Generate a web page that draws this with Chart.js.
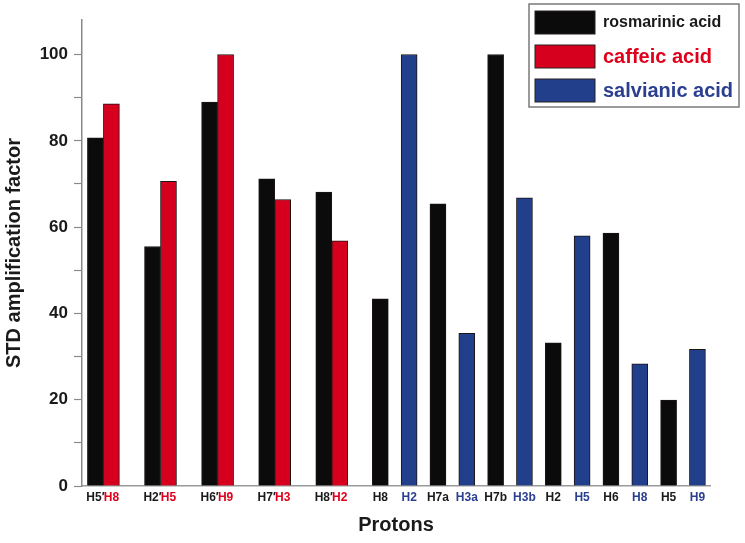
<!DOCTYPE html>
<html>
<head>
<meta charset="utf-8">
<script src="https://cdn.jsdelivr.net/npm/chart.js@4"></script>
<style>
  html, body { margin: 0; padding: 0; background: #fff; }
  #wrap { width: 745px; height: 543px; position: relative; }
</style>
</head>
<body>
<div id="wrap"><canvas id="stdChart"></canvas></div>
<script>
// Paired protons (rosmarinic acid vs caffeic acid)
const rosPairLabels = ['H5′', 'H2′', 'H6′', 'H7′', 'H8′'];
const rosPairValues = [80.7, 55.5, 89.0, 71.2, 68.1];
const caffeicLabels = ['H8', 'H5', 'H9', 'H3', 'H2'];
const caffeicValues = [88.6, 70.6, 100, 66.4, 56.8];

// Single protons (rosmarinic acid / salvianic acid alternating)
const singleLabels = ['H8', 'H2', 'H7a', 'H3a', 'H7b', 'H3b', 'H2', 'H5', 'H6', 'H8', 'H5', 'H9'];
const singleSeries = ['ros', 'sal', 'ros', 'sal', 'ros', 'sal', 'ros', 'sal', 'ros', 'sal', 'ros', 'sal'];
const singleValues = [43.4, 100, 65.4, 35.4, 100, 66.8, 33.2, 58.0, 58.6, 28.3, 19.9, 31.7];

const yTicks = [0, 20, 40, 60, 80, 100];

const COLORS = {
    ros: { bar: '#0b0b0b', text: '#1a1a1a' },
    caf: { bar: '#d6001e', text: '#e0001b' },
    sal: { bar: '#213f8a', text: '#2b3f90' }
};
const seriesNames = { ros: 'rosmarinic acid', caf: 'caffeic acid', sal: 'salvianic acid' };

// slot layout: each pair takes two slots, then one slot per single bar
const bars = [];
rosPairLabels.forEach((lab, g) => {
    const c = 0.75 + 2 * g;
    bars.push({ x: c - 0.28, y: rosPairValues[g], label: lab, s: 'ros' });
    bars.push({ x: c + 0.28, y: caffeicValues[g], label: caffeicLabels[g], s: 'caf' });
});
singleLabels.forEach((lab, i) => {
    bars.push({ x: 10.45 + 1.01 * i, y: singleValues[i], label: lab, s: singleSeries[i] });
});

function makeDataset(key) {
    return {
        label: seriesNames[key],
        data: bars.filter(b => b.s === key).map(b => ({ x: b.x, y: b.y })),
        backgroundColor: COLORS[key].bar,
        borderColor: '#1c1414',
        borderWidth: 1,
        barThickness: 16,
        grouped: false
    };
}

// legend box drawn in the upper right corner
const legendBox = {
    id: 'legendBox',
    afterDraw(chart) {
        const ctx = chart.ctx;
        ctx.save();
        ctx.fillStyle = '#fff';
        ctx.strokeStyle = '#7a7a7a';
        ctx.lineWidth = 1.5;
        ctx.fillRect(529, 4, 210, 103);
        ctx.strokeRect(529, 4, 210, 103);
        const sizes = [16, 20, 20];
        chart.data.datasets.forEach((ds, i) => {
            const top = 11 + i * 34;
            ctx.fillStyle = ds.backgroundColor;
            ctx.fillRect(535, top, 60, 23);
            ctx.strokeStyle = '#2a2020';
            ctx.lineWidth = 1;
            ctx.strokeRect(535, top, 60, 23);
            const key = Object.keys(seriesNames)[i];
            ctx.fillStyle = COLORS[key].text;
            ctx.font = 'bold ' + sizes[i] + 'px "Liberation Sans", Arial, sans-serif';
            ctx.textBaseline = 'middle';
            ctx.textAlign = 'left';
            ctx.fillText(ds.label, 603, top + 12);
        });
        ctx.restore();
    }
};

const sorted = bars.slice().sort((a, b) => a.x - b.x);

new Chart(document.getElementById('stdChart'), {
    type: 'bar',
    data: {
        datasets: [makeDataset('ros'), makeDataset('caf'), makeDataset('sal')]
    },
    options: {
        responsive: true,
        maintainAspectRatio: false,
        animation: false,
        layout: { padding: { top: 20, right: 35, left: 0, bottom: 0 } },
        plugins: {
            legend: { display: false },
            tooltip: { enabled: false }
        },
        scales: {
            x: {
                type: 'linear',
                min: 0,
                max: 22,
                offset: false,
                grid: { display: false, offset: false, drawTicks: false },
                border: { display: true, color: '#9a9a9a', width: 1.5 },
                afterBuildTicks: (scale) => {
                    scale.ticks = sorted.map(b => ({ value: b.x }));
                },
                afterFit: (scale) => { scale.height = 57; },
                ticks: {
                    autoSkip: false,
                    maxRotation: 0,
                    padding: 4,
                    font: { family: '"Liberation Sans", Arial, sans-serif', size: 12, weight: 'bold' },
                    color: (c) => {
                        const b = sorted[c.index];
                        return b ? COLORS[b.s].text : '#222';
                    },
                    callback: (v, i) => sorted[i] ? sorted[i].label : ''
                },
                title: {
                    display: true,
                    text: 'Protons',
                    color: '#1a1a1a',
                    padding: { top: 0, bottom: 6 },
                    font: { family: '"Liberation Sans", Arial, sans-serif', size: 20, weight: 'bold' }
                }
            },
            y: {
                min: 0,
                max: 108,
                afterBuildTicks: (scale) => {
                    const t = [];
                    for (let v = 0; v <= 100; v += 10) t.push({ value: v });
                    scale.ticks = t;
                },
                afterFit: (scale) => { scale.width = 82; },
                grid: {
                    drawOnChartArea: false,
                    drawTicks: true,
                    tickLength: 8,
                    tickColor: '#8a8a8a',
                    tickWidth: 1.2
                },
                border: { display: true, color: '#8a8a8a', width: 1.5 },
                ticks: {
                    padding: 6,
                    color: '#1a1a1a',
                    font: { family: '"Liberation Sans", Arial, sans-serif', size: 17, weight: 'bold' },
                    callback: (v) => yTicks.includes(v) ? String(v) : ''
                },
                title: {
                    display: true,
                    text: 'STD amplification factor',
                    color: '#1a1a1a',
                    padding: { top: 2, bottom: 0 },
                    font: { family: '"Liberation Sans", Arial, sans-serif', size: 20, weight: 'bold' }
                }
            }
        }
    },
    plugins: [legendBox]
});
</script>
</body>
</html>
